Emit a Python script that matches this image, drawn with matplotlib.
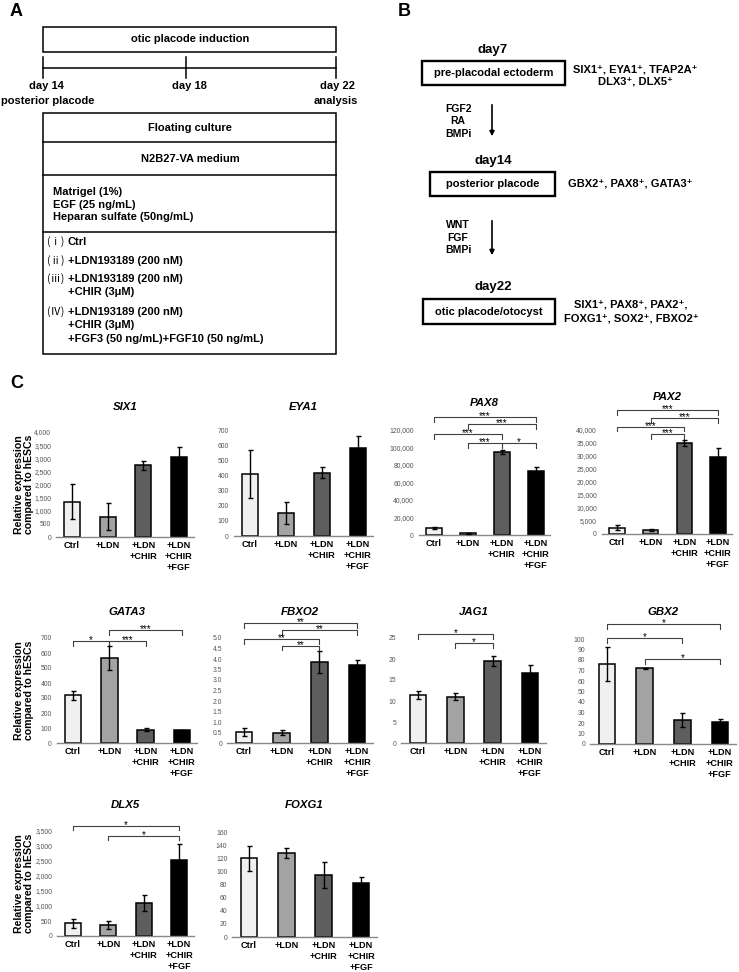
import numpy as np
import matplotlib.pyplot as plt
from matplotlib.patches import Rectangle
from matplotlib.ticker import FuncFormatter

plt.rcParams['font.family'] = ['Liberation Sans', 'DejaVu Sans', 'Noto Sans CJK JP']

W, H = 739, 972

# ---- data (panel C) ----
groups = ['Ctrl', '+LDN', '+LDN\n+CHIR', '+LDN\n+CHIR\n+FGF']
bar_colors = ['#f0f0f0', '#a3a3a3', '#5e5e5e', '#000000']

six1 = [1350, 780, 2730, 3030]
six1_err = [650, 530, 180, 410]
eya1 = [410, 152, 418, 578]
eya1_err = [157, 75, 37, 80]
pax8 = [8000, 2000, 95000, 73000]
pax8_err = [1500, 500, 2000, 5000]
pax2 = [2500, 1500, 35000, 29700]
pax2_err = [800, 300, 1200, 3500]
gata3 = [320, 565, 88, 85]
gata3_err = [30, 80, 10, 5]
fbxo2 = [0.52, 0.48, 3.85, 3.70]
fbxo2_err = [0.18, 0.12, 0.52, 0.25]
jag1 = [11.5, 11.0, 19.5, 16.7]
jag1_err = [1.0, 0.8, 1.2, 1.8]
gbx2 = [76, 72, 23, 20.5]
gbx2_err = [16, 0.5, 7, 3]
dlx5 = [420, 380, 1100, 2550]
dlx5_err = [150, 130, 280, 530]
foxg1 = [120, 128, 95, 83]
foxg1_err = [19, 8, 20, 9]

# significance brackets: (from group, to group, height, label)
pax8_sig = [(0, 3, 135000, '***'), (1, 3, 127000, '***'), (0, 2, 115000, '***'),
            (1, 2, 105000, '***'), (2, 3, 105000, '*')]
pax2_sig = [(0, 3, 47700, '***'), (1, 3, 44500, '***'), (0, 2, 41300, '***'),
            (1, 2, 38500, '***')]
gata3_sig = [(0, 1, 680, '*'), (1, 2, 680, '***'), (1, 3, 753, '***')]
fbxo2_sig = [(0, 3, 5.70, '**'), (1, 3, 5.38, '**'), (0, 2, 4.95, '**'), (1, 2, 4.63, '**')]
jag1_sig = [(0, 2, 26.0, '*'), (1, 2, 23.7, '*')]
gbx2_sig = [(0, 3, 114, '*'), (0, 2, 100.6, '*'), (1, 3, 80.6, '*')]
dlx5_sig = [(0, 3, 3677, '*'), (1, 3, 3343, '*')]

fig = plt.figure(figsize=(W / 100, H / 100), dpi=100)

# overlay axes in pixel coordinates for the schematic panels
ov = fig.add_axes([0, 0, 1, 1])
ov.set_xlim(0, W)
ov.set_ylim(H, 0)
ov.axis('off')

bold = dict(fontweight='bold', color='black')

# panel letters
for letter, x, y in [('A', 10, 12), ('B', 398, 12), ('C', 10, 383)]:
    ov.text(x, y, letter, fontsize=13, ha='left', va='center', **bold)

# ---- panel A ----
lwA = 1.1
ov.add_patch(Rectangle((43, 27), 293, 25, fill=False, lw=lwA, ec='black'))
ov.text(190, 39.5, 'otic placode induction', fontsize=8, ha='center', va='center', **bold)
ov.plot([43, 336], [68, 68], color='black', lw=lwA)
for tx in [43, 186, 336]:
    ov.plot([tx, tx], [57, 78], color='black', lw=lwA)
ov.text(46, 86, 'day 14', fontsize=8, ha='center', va='center', **bold)
ov.text(48, 101, 'posterior placode', fontsize=8, ha='center', va='center', **bold)
ov.text(189, 86, 'day 18', fontsize=8, ha='center', va='center', **bold)
ov.text(338, 86, 'day 22', fontsize=8, ha='center', va='center', **bold)
ov.text(336, 101, 'analysis', fontsize=8, ha='center', va='center', **bold)

ov.add_patch(Rectangle((43, 113), 293, 241, fill=False, lw=lwA, ec='black'))
for yy in [142, 175, 232]:
    ov.plot([43, 336], [yy, yy], color='black', lw=lwA)
ov.text(190, 128, 'Floating culture', fontsize=8, ha='center', va='center', **bold)
ov.text(190, 159, 'N2B27-VA medium', fontsize=8, ha='center', va='center', **bold)
ov.text(53, 192, 'Matrigel (1%)', fontsize=8, ha='left', va='center', **bold)
ov.text(53, 204.5, 'EGF (25 ng/mL)', fontsize=8, ha='left', va='center', **bold)
ov.text(53, 217, 'Heparan sulfate (50ng/mL)', fontsize=8, ha='left', va='center', **bold)

conditions = [('(ⅰ)', 'Ctrl', 242), ('(ⅱ)', '+LDN193189 (200 nM)', 261),
              ('(ⅲ)', '+LDN193189 (200 nM)', 279), ('', '+CHIR (3μM)', 292),
              ('(Ⅳ)', '+LDN193189 (200 nM)', 312), ('', '+CHIR (3μM)', 325),
              ('', '+FGF3 (50 ng/mL)+FGF10 (50 ng/mL)', 339)]
for num, txt, yy in conditions:
    if num:
        ov.text(55.5, yy, num, fontsize=7.5, ha='center', va='center', color='black',
                family=['Noto Sans CJK JP', 'DejaVu Sans'])
    ov.text(68, yy, txt, fontsize=8, ha='left', va='center', **bold)

# ---- panel B ----
lwB = 1.7
stages = [('day7', 'pre-placodal ectoderm', 50, 422, 565, 61, 85),
          ('day14', 'posterior placode', 161, 430, 555, 172, 196),
          ('day22', 'otic placode/otocyst', 287, 423, 555, 299, 324)]
for day, name, dy, x0, x1, y0, y1 in stages:
    ov.text(493, dy, day, fontsize=9.5, ha='center', va='center', **bold)
    ov.add_patch(Rectangle((x0, y0), x1 - x0, y1 - y0, fill=False, lw=lwB, ec='black'))
    ov.text((x0 + x1) / 2, (y0 + y1) / 2, name, fontsize=8, ha='center', va='center', **bold)

markers = [('SIX1⁺, EYA1⁺, TFAP2A⁺', 635, 70), ('DLX3⁺, DLX5⁺', 635, 82),
           ('GBX2⁺, PAX8⁺, GATA3⁺', 630, 184),
           ('SIX1⁺, PAX8⁺, PAX2⁺,', 631, 304), ('FOXG1⁺, SOX2⁺, FBXO2⁺', 631, 318)]
for txt, xx, yy in markers:
    ov.text(xx, yy, txt, fontsize=8, ha='center', va='center', **bold)

for y0, y1, labels in [(102, 139, ['FGF2', 'RA', 'BMPi']), (218, 258, ['WNT', 'FGF', 'BMPi'])]:
    ov.annotate('', xy=(492, y1), xytext=(492, y0),
                arrowprops=dict(arrowstyle='-|>', lw=1.2, color='black', mutation_scale=7))
    for k, lab in enumerate(labels):
        ov.text(458, y0 + 7 + k * 12.5, lab, fontsize=7.5, ha='center', va='center', **bold)

# ---- panel C ----
# (gene, values, errors, ymax, step, brackets, first centre, last centre, top px, zero px, title px)
charts = [
    ('SIX1', six1, six1_err, 4000, 500, [], 72, 179, 432, 537, 407),
    ('EYA1', eya1, eya1_err, 700, 100, [], 250, 358, 430, 536, 407),
    ('PAX8', pax8, pax8_err, 120000, 20000, pax8_sig, 434, 536, 430, 535, 403),
    ('PAX2', pax2, pax2_err, 40000, 5000, pax2_sig, 617, 718, 430, 534, 397),
    ('GATA3', gata3, gata3_err, 700, 100, gata3_sig, 73, 182, 638, 743, 612),
    ('FBXO2', fbxo2, fbxo2_err, 5, 0.5, fbxo2_sig, 244, 357, 638, 743, 612),
    ('JAG1', jag1, jag1_err, 25, 5, jag1_sig, 418, 530, 638, 743, 612),
    ('GBX2', gbx2, gbx2_err, 100, 10, gbx2_sig, 607, 720, 639, 744, 612),
    ('DLX5', dlx5, dlx5_err, 3500, 500, dlx5_sig, 73, 179, 831, 936, 805),
    ('FOXG1', foxg1, foxg1_err, 160, 20, [], 249, 361, 832, 937, 805),
]

xpos = np.arange(len(groups))
for gene, vals, errs, ymax, step, sig, c0, c3, top, zero, ty in charts:
    sp = (c3 - c0) / 3
    left = c0 - 0.45 * sp
    right = c3 + 0.42 * sp
    ax = fig.add_axes([left / W, 1 - zero / H, (right - left) / W, (zero - top) / H])
    ax.bar(xpos, vals, width=0.45, color=bar_colors, edgecolor='black', linewidth=1.1, zorder=2)
    ax.errorbar(xpos, vals, yerr=errs, fmt='none', ecolor='black', elinewidth=1,
                capsize=1.8, capthick=1, zorder=3)
    ax.set_xlim(-0.45, 3.42)
    ax.set_ylim(0, ymax)
    ax.set_yticks(np.arange(0, ymax + step / 2, step))
    if step < 1:
        fmt = FuncFormatter(lambda v, p: '0' if v == 0 else f'{v:.1f}')
    else:
        fmt = FuncFormatter(lambda v, p: f'{v:,.0f}')
    ax.yaxis.set_major_formatter(fmt)
    ax.tick_params(axis='y', length=0, pad=3.5, labelsize=4.9, labelcolor='#555555')
    ax.set_xticks(xpos)
    ax.set_xticklabels(groups, fontsize=6.6, fontweight='bold', linespacing=1.3)
    ax.tick_params(axis='x', length=0, pad=3)
    for s in ['top', 'right', 'left']:
        ax.spines[s].set_visible(False)
    ax.spines['bottom'].set_color('#888888')
    ax.spines['bottom'].set_linewidth(1)
    ax.patch.set_alpha(0)

    h = 0.045 * ymax
    for i, j, y, lab in sig:
        ax.plot([i, i, j, j], [y - h, y, y, y - h], color='#404040', lw=0.8, clip_on=False)
        ax.annotate(lab, xy=((i + j) / 2, y), xytext=(0, -1.5), textcoords='offset points',
                    ha='center', va='baseline', fontsize=7, annotation_clip=False)

    fig.text((left + right) / 2 / W, 1 - ty / H, gene, fontsize=8.2, fontweight='bold',
             fontstyle='italic', ha='center', va='center')
    if gene in ('SIX1', 'GATA3', 'DLX5'):
        fig.text(24 / W, 1 - (top + zero) / 2 / H, 'Relative expression\ncompared to hESCs',
                 rotation=90, fontsize=7.6, fontweight='bold', ha='center', va='center',
                 linespacing=1.1)

fig.savefig('out.png', dpi=100)
